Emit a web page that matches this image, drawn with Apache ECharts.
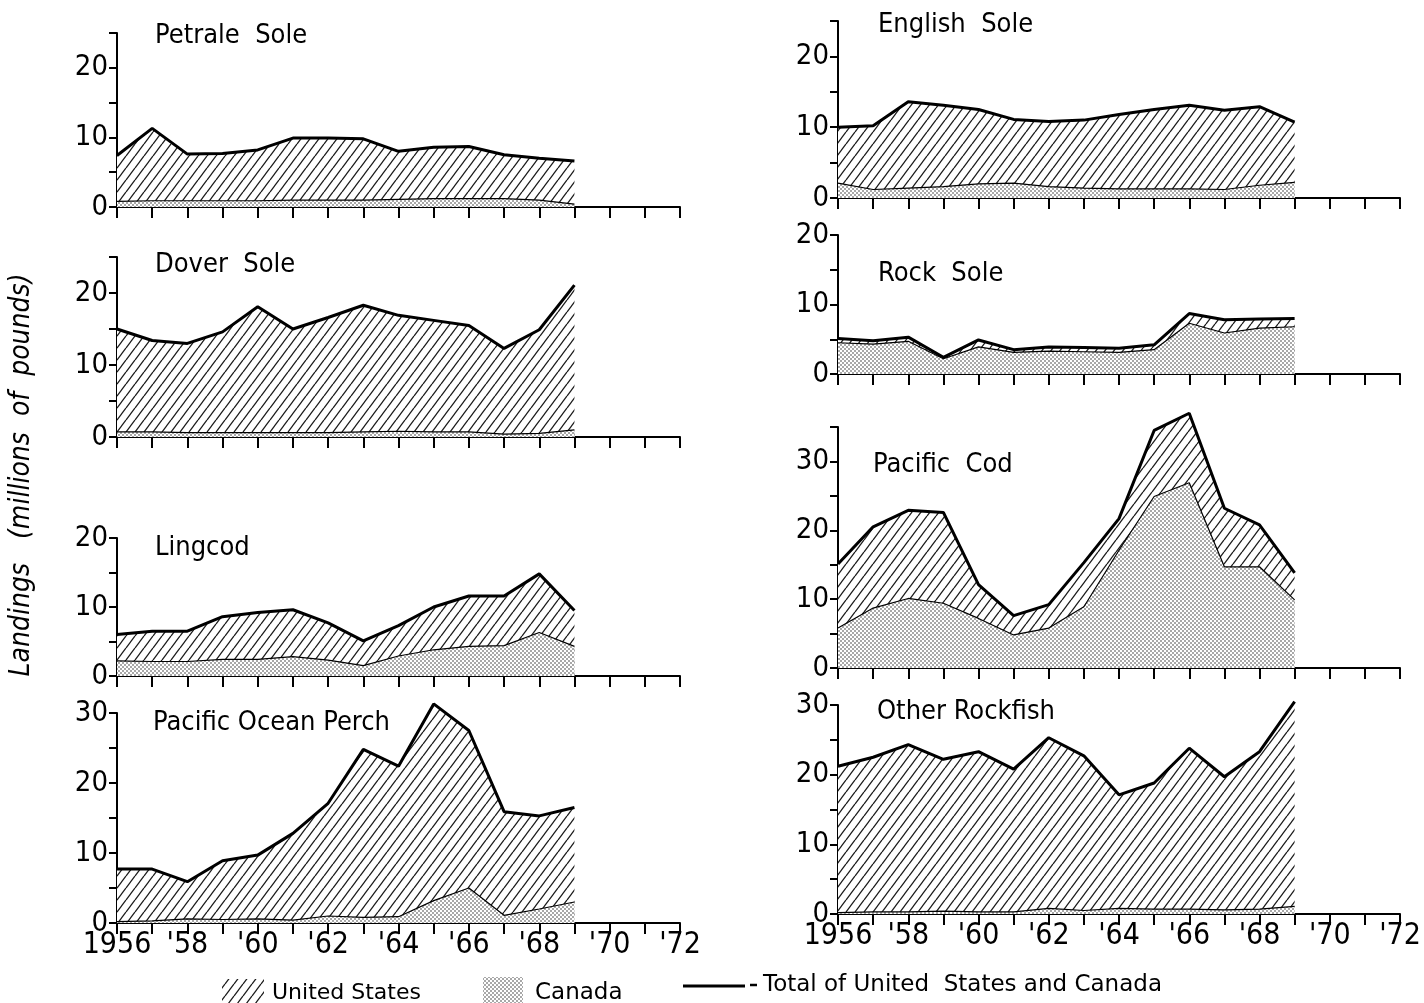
<!DOCTYPE html>
<html>
<head>
<meta charset="utf-8">
<script src="https://cdn.jsdelivr.net/npm/echarts@6/dist/echarts.min.js"></script>
<style>
html,body{margin:0;padding:0;background:#fff;}
#chart{width:1424px;height:1003px;}
</style>
</head>
<body>
<div id="chart"></div>
<script>
// ---------- DATA (millions of pounds) ----------
const years = [1956,1957,1958,1959,1960,1961,1962,1963,1964,1965,1966,1967,1968,1969];
const xTickLabels = {1956:'1956',1958:"'58",1960:"'60",1962:"'62",1964:"'64",1966:"'66",1968:"'68",1970:"'70",1972:"'72"};

const petraleTotal  = [7.4,11.3,7.6,7.7,8.2,9.9,9.9,9.8,8.0,8.6,8.7,7.5,7.0,6.6];
const petraleCanada = [0.8,0.9,0.9,0.9,0.9,1.0,1.0,1.0,1.1,1.2,1.2,1.2,1.0,0.4];

const doverTotal  = [15.0,13.4,13.0,14.6,18.1,15.0,16.6,18.3,16.9,16.2,15.5,12.3,14.9,21.1];
const doverCanada = [0.7,0.7,0.6,0.6,0.6,0.6,0.6,0.7,0.8,0.7,0.7,0.4,0.5,1.0];

const lingTotal  = [6.0,6.5,6.5,8.6,9.2,9.6,7.7,5.1,7.3,10.0,11.6,11.6,14.8,9.5];
const lingCanada = [2.2,2.1,2.1,2.4,2.4,2.8,2.3,1.5,2.9,3.8,4.3,4.4,6.3,4.3];

const popTotal  = [7.7,7.7,5.9,8.9,9.7,12.8,17.1,24.8,22.4,31.3,27.5,15.9,15.3,16.5];
const popCanada = [0.2,0.3,0.6,0.5,0.6,0.4,1.0,0.8,0.9,3.2,5.0,1.1,2.0,3.0];

const englishTotal  = [10.0,10.2,13.6,13.1,12.5,11.1,10.8,11.0,11.8,12.5,13.1,12.4,12.9,10.7];
const englishCanada = [2.1,1.2,1.4,1.6,2.0,2.1,1.6,1.4,1.3,1.3,1.3,1.2,1.8,2.2];

const rockTotal  = [5.1,4.8,5.3,2.4,4.9,3.5,3.9,3.8,3.7,4.2,8.7,7.8,7.9,8.0];
const rockCanada = [4.5,4.3,4.7,2.2,3.9,3.1,3.3,3.2,3.1,3.5,7.3,5.9,6.6,6.8];

const codTotal  = [15.1,20.5,22.9,22.6,12.1,7.6,9.2,15.3,21.7,34.5,37.0,23.2,20.8,13.8];
const codCanada = [5.8,8.7,10.1,9.4,7.2,4.8,5.8,8.9,17.1,24.9,26.9,14.7,14.7,9.9];

const rockfishTotal  = [21.2,22.5,24.3,22.2,23.3,20.8,25.3,22.7,17.1,18.8,23.8,19.7,23.3,30.5];
const rockfishCanada = [0.2,0.3,0.3,0.4,0.3,0.3,0.8,0.5,0.8,0.7,0.7,0.6,0.7,1.1];

const panelNames = ['Petrale  Sole','Dover  Sole','Lingcod','Pacific Ocean Perch','English  Sole','Rock  Sole','Pacific  Cod','Other Rockfish'];
const legendNames = ['United States','Canada','Total of United  States and Canada'];
const yAxisTitle = 'Landings   (millions  of  pounds)';

// ---------- PATTERNS ----------
function hatchPattern(){
  const w=9,h=12;
  const c=document.createElement('canvas'); c.width=w; c.height=h;
  const g=c.getContext('2d');
  g.fillStyle='#fff'; g.fillRect(0,0,w,h);
  g.strokeStyle='#1a1a1a'; g.lineWidth=1.3;
  for(const dx of [-w,0,w]){ g.beginPath(); g.moveTo(dx,h); g.lineTo(dx+w,0); g.stroke(); }
  return {image:c, repeat:'repeat'};
}
function dotPattern(){
  const s=4;
  const c=document.createElement('canvas'); c.width=s; c.height=s;
  const g=c.getContext('2d');
  g.fillStyle='#fff'; g.fillRect(0,0,s,s);
  g.fillStyle='#3a3a3a';
  g.beginPath(); g.arc(1,1,0.8,0,Math.PI*2); g.fill();
  g.beginPath(); g.arc(3,3,0.8,0,Math.PI*2); g.fill();
  return {image:c, repeat:'repeat'};
}
const HATCH = hatchPattern();
const DOTS = dotPattern();

// ---------- LAYOUT ----------
const FONT = "'DejaVu Sans Condensed','DejaVu Sans',sans-serif";
const WFONT = "'DejaVu Sans',sans-serif";
const panels = [
  {name:panelNames[0], total:petraleTotal, canada:petraleCanada, max:25, left:117, top:33,  h:174, labels:false, tx:150, ty:33},
  {name:panelNames[1], total:doverTotal,   canada:doverCanada,   max:25, left:117, top:257, h:180, labels:false, tx:150, ty:262},
  {name:panelNames[2], total:lingTotal,    canada:lingCanada,    max:20, left:117, top:538, h:138, labels:false, tx:150, ty:545},
  {name:panelNames[3], total:popTotal,     canada:popCanada,     max:30, left:117, top:713, h:210, labels:true,  tx:148, ty:720},
  {name:panelNames[4], total:englishTotal, canada:englishCanada, max:25, left:838, top:21,  h:177, labels:false, tx:873, ty:22},
  {name:panelNames[5], total:rockTotal,    canada:rockCanada,    max:20, left:838, top:235, h:139, labels:false, tx:873, ty:271},
  {name:panelNames[6], total:codTotal,     canada:codCanada,     max:35, left:838, top:427, h:241, labels:false, tx:868, ty:462},
  {name:panelNames[7], total:rockfishTotal,canada:rockfishCanada,max:30, left:838, top:705, h:209, labels:true,  tx:872, ty:709}
];

const grid=[], xAxis=[], yAxis=[], series=[], title=[];
panels.forEach((p,i)=>{
  grid.push({left:p.left, top:p.top, width:(p.left<400?563:562), height:p.h});
  xAxis.push({
    type:'value', gridIndex:i, min:1956, max:1972, interval:1,
    axisLine:{show:true, onZero:false, lineStyle:{color:'#000', width:2}},
    axisTick:{show:true, inside:false, length:11, lineStyle:{color:'#000', width:2}},
    axisLabel:{show:p.labels, margin:7, color:'#000', fontSize:30, fontFamily:FONT,
      formatter:v=> xTickLabels[v] || ''},
    splitLine:{show:false}
  });
  yAxis.push({
    type:'value', gridIndex:i, min:0, max:p.max, interval:5,
    axisLine:{show:true, lineStyle:{color:'#000', width:2}},
    axisTick:{show:true, inside:false, length:8, lineStyle:{color:'#000', width:2}},
    axisLabel:{show:true, margin:9, color:'#000', fontSize:29, fontFamily:FONT,
      formatter:v=> (v%10===0 ? String(v) : '')},
    splitLine:{show:false}
  });
  series.push({
    type:'line', xAxisIndex:i, yAxisIndex:i, z:2, clip:false,
    data: years.map((y,k)=>[y,p.total[k]]),
    symbol:'none', smooth:false,
    lineStyle:{color:'#000', width:3},
    areaStyle:{color:HATCH, opacity:1},
    silent:true, animation:false
  });
  series.push({
    type:'line', xAxisIndex:i, yAxisIndex:i, z:3, clip:false,
    data: years.map((y,k)=>[y,p.canada[k]]),
    symbol:'none', smooth:false,
    lineStyle:{color:'#000', width:1.2},
    areaStyle:{color:DOTS, opacity:1},
    silent:true, animation:false
  });
  title.push({text:p.name, left:p.tx, top:p.ty-16,
    textStyle:{color:'#000', fontSize:27, fontWeight:'normal', fontFamily:FONT}});
});

const chart = echarts.init(document.getElementById('chart'), null, {renderer:'canvas'});
chart.setOption({
  animation:false,
  backgroundColor:'#fff',
  title, grid, xAxis, yAxis, series,
  graphic:[
    {type:'text', x:22, y:475, rotation:Math.PI/2, style:{text:yAxisTitle, fill:'#000',
      font:"italic 28px 'DejaVu Sans Condensed','DejaVu Sans',sans-serif", textAlign:'center', textVerticalAlign:'middle'}},
    {type:'rect', shape:{x:222,y:979,width:42,height:24}, style:{fill:HATCH, stroke:null}},
    {type:'text', x:272, y:993, style:{text:legendNames[0], fill:'#000', font:"22px "+WFONT, textVerticalAlign:'middle'}},
    {type:'rect', shape:{x:483,y:977,width:40,height:26}, style:{fill:DOTS, stroke:null}},
    {type:'text', x:535, y:993, style:{text:legendNames[1], fill:'#000', font:"23px "+WFONT, textVerticalAlign:'middle'}},
    {type:'line', shape:{x1:683,y1:986,x2:745,y2:986}, style:{stroke:'#000', lineWidth:3}},
    {type:'line', shape:{x1:750,y1:985,x2:757,y2:985}, style:{stroke:'#000', lineWidth:2.5}},
    {type:'text', x:763, y:985, style:{text:legendNames[2], fill:'#000', font:"23px "+WFONT, textVerticalAlign:'middle'}}
  ]
});
</script>
</body>
</html>
